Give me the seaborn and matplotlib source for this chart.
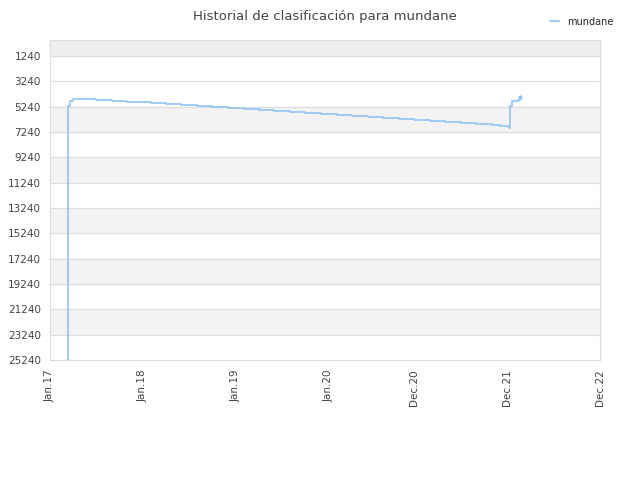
import matplotlib
matplotlib.use("Agg")
import matplotlib.pyplot as plt
import seaborn as sns
import pandas as pd

dates = ["2017-03-10","2017-03-11","2017-03-12","2017-03-14","2017-03-20",
         "2017-04-01","2017-05-01","2017-06-01","2017-07-01","2017-08-01","2017-09-01","2017-10-01","2017-11-01","2017-12-01",
         "2018-01-01","2018-02-01","2018-03-01","2018-04-01","2018-05-01","2018-06-01","2018-07-01","2018-08-01","2018-09-01","2018-10-01","2018-11-01","2018-12-01",
         "2019-01-01","2019-02-01","2019-03-01","2019-04-01","2019-05-01","2019-06-01","2019-07-01","2019-08-01","2019-09-01","2019-10-01","2019-11-01","2019-12-01",
         "2020-01-01","2020-02-01","2020-03-01","2020-04-01","2020-05-01","2020-06-01","2020-07-01","2020-08-01","2020-09-01","2020-10-01","2020-11-01","2020-12-01",
         "2021-01-01","2021-02-01","2021-03-01","2021-04-01","2021-05-01","2021-06-01","2021-07-01","2021-08-01","2021-09-01","2021-10-01","2021-11-01","2021-12-01",
         "2021-12-09","2021-12-10","2021-12-12","2021-12-20","2022-01-10","2022-01-20"]
ranks = [25240,9000,5600,5200,4750,
         4600,4620,4660,4700,4740,4770,4800,4830,4860,
         4900,4930,4960,5000,5040,5080,5120,5160,5200,5240,5280,5320,
         5360,5400,5440,5480,5520,5560,5600,5640,5680,5720,5760,5800,
         5840,5880,5920,5960,6000,6040,6080,6120,6160,6200,6240,6280,
         6320,6360,6400,6440,6480,6520,6560,6600,6640,6690,6740,6800,
         6950,6000,5200,4800,4700,4500]

df = pd.DataFrame({"date": pd.to_datetime(dates), "rank": ranks})

sns.set_style("white")
fig, ax = plt.subplots(figsize=(6.4, 4.8), dpi=100)
fig.subplots_adjust(left=0.078, right=0.938, top=0.917, bottom=0.25)

ax.axhspan(-40, 1240, color="#eeeeee", zorder=0)
for lo in range(5240, 25240, 4000):
    ax.axhspan(lo, lo + 2000, color="#f3f3f3", zorder=0)
for y in range(1240, 25241, 2000):
    ax.axhline(y, color="#dddddd", lw=0.8, zorder=1)

sns.lineplot(data=df, x="date", y="rank", drawstyle="steps-post", color="#90c4f5",
             lw=1.2, ax=ax, label="mundane")
ax.plot(df["date"].iloc[-1], df["rank"].iloc[-1], "o", ms=2, color="#90c4f5")

ax.set_ylim(25240, -40)
ax.set_yticks(range(1240, 25241, 2000))
xt = pd.to_datetime(["2017-01-01","2018-01-01","2019-01-01","2020-01-01","2020-12-01","2021-12-01","2022-12-01"])
ax.set_xlim(xt[0], xt[-1])
ax.set_xticks(xt)
ax.set_xticklabels(["Jan.17","Jan.18","Jan.19","Jan.20","Dec.20","Dec.21","Dec.22"], rotation=90)
ax.tick_params(labelsize=7.5, colors="#444444", length=3)
ax.set_xlabel(""); ax.set_ylabel("")
for s in ax.spines.values():
    s.set_color("#dddddd")
ax.set_title("Historial de clasificación para mundane", fontsize=9.5, color="#444444", pad=14)
ax.legend(loc="upper right", bbox_to_anchor=(1.04, 1.1), frameon=False, fontsize=7, handlelength=1)
fig.savefig("out.png")
